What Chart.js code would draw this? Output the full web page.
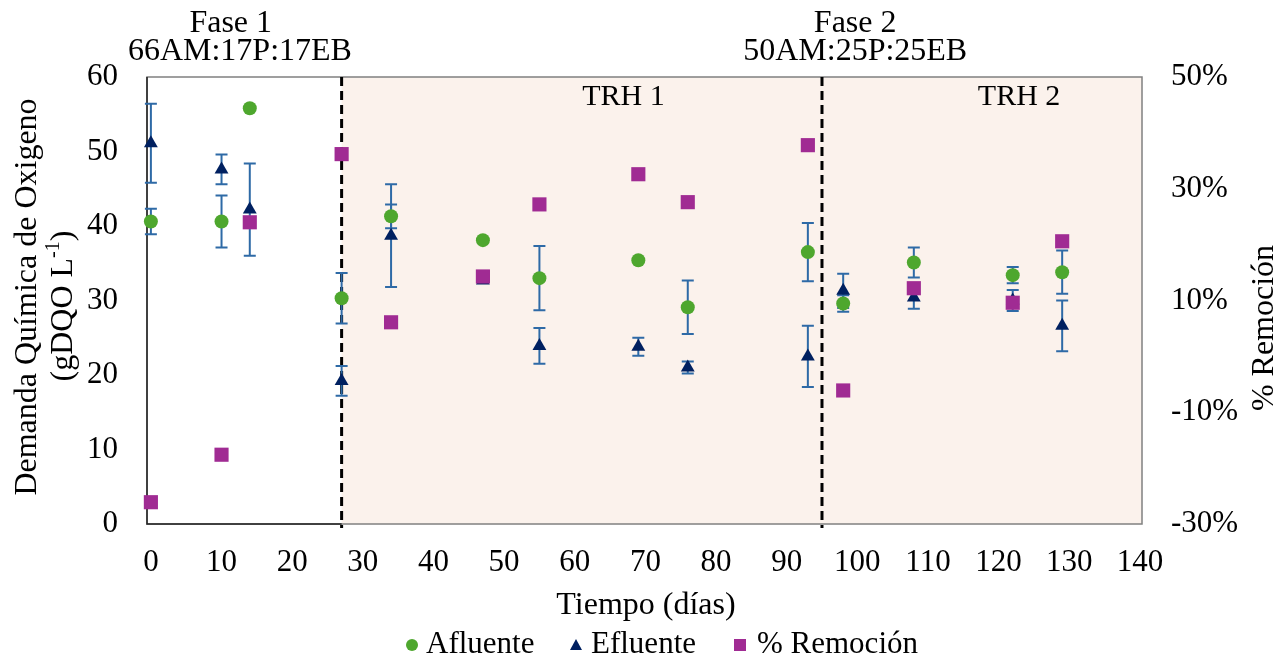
<!DOCTYPE html>
<html>
<head>
<meta charset="utf-8">
<script src="https://cdn.jsdelivr.net/npm/chart.js@4.4.1/dist/chart.umd.min.js"></script>
<style>
  html, body { margin: 0; padding: 0; background: #fff; }
  #wrap { width: 1278px; height: 662px; }
</style>
</head>
<body>
<div id="wrap"><canvas id="dqoChart" width="1278" height="662"></canvas></div>
<script>
// datos
var dias = [0, 10, 14, 27, 34, 47, 55, 69, 76, 93, 98, 108, 122, 129];
var afluente = [40.6, 40.6, 55.8, 30.3, 41.3, 38.1, 33.0, 35.4, 29.1, 36.5, 29.6, 35.1, 33.4, 33.8];
var afluenteErr = [1.7, 3.5, 0, 3.4, 1.6, 0, 4.3, 0, 3.6, 3.9, 1.1, 2.0, 1.1, 2.9];
var efluente = [51.1, 47.6, 42.2, 19.2, 38.7, 32.7, 23.9, 23.8, 21.0, 22.5, 31.3, 30.4, 30.0, 26.6];
var efluenteErr = [5.3, 2.0, 6.2, 2.0, 6.9, 0, 2.4, 1.2, 0.8, 4.1, 2.3, 1.5, 1.4, 3.4];
var remocion = [-26.1, -17.6, 24.0, 36.2, 6.1, 14.3, 27.2, 32.6, 27.6, 37.8, -6.1, 12.2, 9.6, 20.6];

var xTicks = [0, 10, 20, 30, 40, 50, 60, 70, 80, 90, 100, 110, 120, 130, 140];
var cambiosFase = [27, 95];
var fases = ['Fase 1', 'Fase 2'];
var mezclas = ['66AM:17P:17EB', '50AM:25P:25EB'];
var trh = ['TRH 1', 'TRH 2'];

var FONT = '"Liberation Serif", "Times New Roman", serif';
var verde = '#4EA72E', azul = '#002060', morado = '#A02B93', barraErr = '#2E6AA6';

function puntos(ys) {
    return dias.map(function (d, i) { return { x: d, y: ys[i] }; });
}

// sombreado, marco, lineas de fase y barras de error
var extras = {
    id: 'extras',
    beforeDatasetsDraw: function (chart) {
        var ctx = chart.ctx, a = chart.chartArea;
        var sx = chart.scales.x, sy = chart.scales.y;
        var x1 = sx.getPixelForValue(cambiosFase[0]);
        ctx.save();
        ctx.fillStyle = '#FBF2EC';
        ctx.fillRect(x1, a.top, a.right - x1, a.bottom - a.top);

        // marco
        ctx.lineWidth = 1.5;
        ctx.strokeStyle = '#808080';
        ctx.strokeRect(a.left, a.top, a.right - a.left, a.bottom - a.top);
        ctx.strokeStyle = '#222';
        ctx.beginPath();
        ctx.moveTo(a.left, a.top);
        ctx.lineTo(a.left, a.bottom);
        ctx.lineTo(x1, a.bottom);
        ctx.stroke();

        // lineas de fase
        ctx.strokeStyle = '#000';
        ctx.lineWidth = 3;
        ctx.setLineDash([9, 5]);
        cambiosFase.forEach(function (v) {
            var px = sx.getPixelForValue(v);
            ctx.beginPath();
            ctx.moveTo(px, a.top);
            ctx.lineTo(px, a.bottom + 4);
            ctx.stroke();
        });
        ctx.setLineDash([]);

        // barras de error
        ctx.strokeStyle = barraErr;
        ctx.lineWidth = 2;
        [[afluente, afluenteErr], [efluente, efluenteErr]].forEach(function (s) {
            dias.forEach(function (d, i) {
                var e = s[1][i];
                if (!e) return;
                var px = sx.getPixelForValue(d);
                var top = sy.getPixelForValue(s[0][i] + e);
                var bot = sy.getPixelForValue(s[0][i] - e);
                ctx.beginPath();
                ctx.moveTo(px, top); ctx.lineTo(px, bot);
                ctx.moveTo(px - 6, top); ctx.lineTo(px + 6, top);
                ctx.moveTo(px - 6, bot); ctx.lineTo(px + 6, bot);
                ctx.stroke();
            });
        });
        ctx.restore();
    },
    afterDraw: function (chart) {
        var ctx = chart.ctx;
        var sx = chart.scales.x, sy = chart.scales.y;
        ctx.save();
        ctx.fillStyle = '#000';
        ctx.font = '32px ' + FONT;
        ctx.textAlign = 'center';
        ctx.textBaseline = 'middle';

        // etiquetas de fase
        ctx.fillText(fases[0], sx.getPixelForValue(11.3), 24);
        ctx.fillText(mezclas[0], sx.getPixelForValue(12.6), 52);
        ctx.fillText(fases[1], sx.getPixelForValue(99.7), 24);
        ctx.fillText(mezclas[1], sx.getPixelForValue(99.7), 52);

        // TRH
        ctx.font = '30px ' + FONT;
        ctx.fillText(trh[0], sx.getPixelForValue(66.9), sy.getPixelForValue(57.3));
        ctx.fillText(trh[1], sx.getPixelForValue(122.9), sy.getPixelForValue(57.3));

        // titulo eje x
        ctx.font = '32px ' + FONT;
        ctx.fillText('Tiempo (días)', 646, 606);

        // titulo eje y izquierdo
        ctx.save();
        ctx.translate(28, 297);
        ctx.rotate(-Math.PI / 2);
        ctx.fillText('Demanda Química de Oxigeno', 0, 0);
        ctx.restore();

        ctx.save();
        ctx.translate(64, 306);
        ctx.rotate(-Math.PI / 2);
        var p1 = '(gDQO L', sup = '-1', p2 = ')';
        ctx.font = '32px ' + FONT;
        var w1 = ctx.measureText(p1).width, w3 = ctx.measureText(p2).width;
        ctx.font = '20px ' + FONT;
        var w2 = ctx.measureText(sup).width;
        var x0 = -(w1 + w2 + w3) / 2;
        ctx.textAlign = 'left';
        ctx.font = '32px ' + FONT;
        ctx.fillText(p1, x0, 0);
        ctx.font = '20px ' + FONT;
        ctx.fillText(sup, x0 + w1, -10);
        ctx.font = '32px ' + FONT;
        ctx.fillText(p2, x0 + w1 + w2, 0);
        ctx.restore();

        // titulo eje y derecho
        ctx.save();
        ctx.translate(1265, 328);
        ctx.rotate(-Math.PI / 2);
        ctx.fillText('% Remoción', 0, 0);
        ctx.restore();

        // leyenda
        var ly = 645;
        ctx.textAlign = 'left';
        ctx.font = '31px ' + FONT;
        ctx.fillStyle = verde;
        ctx.beginPath(); ctx.arc(412, ly, 6, 0, Math.PI * 2); ctx.fill();
        ctx.fillStyle = azul;
        ctx.beginPath();
        ctx.moveTo(576, ly - 6); ctx.lineTo(582, ly + 5); ctx.lineTo(570, ly + 5);
        ctx.closePath(); ctx.fill();
        ctx.fillStyle = morado;
        ctx.fillRect(734, ly - 6, 12, 12);
        ctx.fillStyle = '#000';
        ctx.fillText('Afluente', 426, ly);
        ctx.fillText('Efluente', 591, ly);
        ctx.fillText('% Remoción', 757, ly);
        ctx.restore();
    }
};

var ctx = document.getElementById('dqoChart').getContext('2d');
new Chart(ctx, {
    type: 'scatter',
    data: {
        datasets: [{
            label: 'Afluente',
            data: puntos(afluente),
            yAxisID: 'y',
            order: 3,
            pointStyle: 'circle',
            pointRadius: 7,
            pointHoverRadius: 7,
            backgroundColor: verde,
            borderColor: verde,
            borderWidth: 0,
            clip: false
        }, {
            label: 'Efluente',
            data: puntos(efluente),
            yAxisID: 'y',
            order: 2,
            pointStyle: 'triangle',
            pointRadius: 8,
            pointHoverRadius: 8,
            backgroundColor: azul,
            borderColor: azul,
            borderWidth: 0,
            clip: false
        }, {
            label: '% Remoción',
            data: puntos(remocion),
            yAxisID: 'y1',
            order: 1,
            pointStyle: 'rect',
            pointRadius: 10,
            pointHoverRadius: 10,
            backgroundColor: morado,
            borderColor: morado,
            borderWidth: 0,
            clip: false
        }]
    },
    options: {
        responsive: false,
        animation: false,
        layout: { padding: { left: 0, right: 0, top: 77, bottom: 0 } },
        plugins: {
            legend: { display: false },
            tooltip: { enabled: false }
        },
        scales: {
            x: {
                type: 'linear',
                min: -0.55,
                max: 140.3,
                afterBuildTicks: function (s) {
                    s.ticks = xTicks.map(function (v) { return { value: v }; });
                },
                afterFit: function (s) { s.height = 138; },
                grid: { display: false, drawTicks: false },
                border: { display: false },
                ticks: { padding: 20, color: '#000', font: { family: FONT, size: 31 } }
            },
            y: {
                position: 'left',
                min: 0,
                max: 60,
                afterFit: function (s) { s.width = 147; },
                grid: { display: false, drawTicks: false },
                border: { display: false },
                ticks: { stepSize: 10, padding: 29, color: '#000', font: { family: FONT, size: 31 } }
            },
            y1: {
                position: 'right',
                min: -30,
                max: 50,
                afterFit: function (s) { s.width = 136; },
                grid: { display: false, drawTicks: false },
                border: { display: false },
                ticks: {
                    stepSize: 20,
                    padding: 29,
                    color: '#000',
                    font: { family: FONT, size: 31 },
                    callback: function (v) { return v + '%'; }
                }
            }
        }
    },
    plugins: [extras]
});
</script>
</body>
</html>
